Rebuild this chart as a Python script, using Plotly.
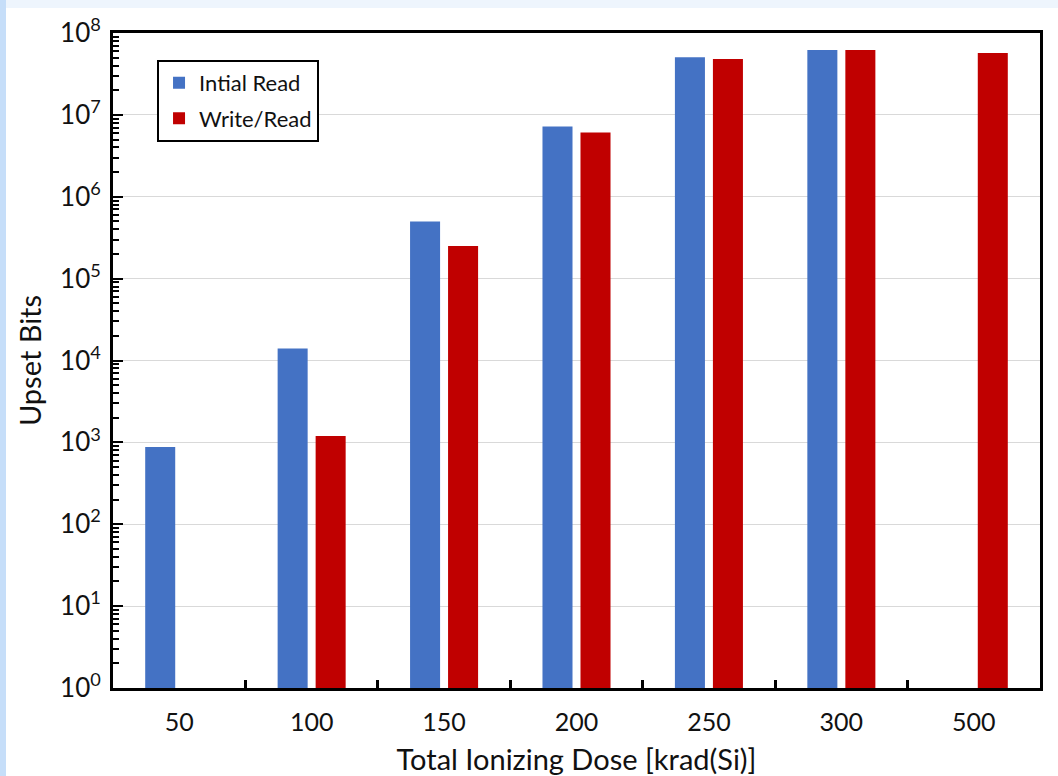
import plotly.graph_objects as go

# Dose steps and upset-bit counts per read mode
doses = ["50", "100", "150", "200", "250", "300", "500"]
initial_read = [880, 1.4e4, 5.0e5, 7.2e6, 5.05e7, 6.2e7, None]
write_read = [None, 1200, 2.5e5, 6.1e6, 4.8e7, 6.2e7, 5.7e7]

W, H = 1058, 776
L, R, T, B = 113, 18, 33, 88
FONT = "Lato, Noto Sans, sans-serif"

fig = go.Figure()
fig.add_trace(go.Bar(x=doses, y=initial_read, name="Intial Read",
                     marker=dict(color="#4472c4", line=dict(width=0)),
                     legendgroup="a"))
fig.add_trace(go.Bar(x=doses, y=write_read, name="Write/Read",
                     marker=dict(color="#c00000", line=dict(width=0)),
                     legendgroup="b"))

decades = [10 ** k for k in range(0, 9)]
minor_vals = [m * 10 ** k for k in range(0, 8) for m in range(2, 10)]

fig.update_layout(
    width=W, height=H,
    margin=dict(l=L, r=R, t=T, b=B),
    paper_bgcolor="white", plot_bgcolor="white",
    font=dict(family=FONT, color="#111111"),
    barmode="group", bargap=0.426, bargroupgap=0.21,
    showlegend=True,
    legend=dict(x=0.0475, y=0.959, xanchor="left", yanchor="top",
                bgcolor="white", bordercolor="black", borderwidth=2,
                font=dict(size=22, family=FONT), tracegroupgap=4,
                itemwidth=30),
    xaxis=dict(
        type="category", automargin=False,
        showline=True, linecolor="black", linewidth=3,
        mirror=True, ticks="inside", tickson="boundaries", ticklen=8,
        tickwidth=3, tickcolor="black", showgrid=False,
        tickfont=dict(size=25, family=FONT), ticklabelstandoff=10,
        title=dict(text="Total Ionizing Dose [krad(Si)]",
                   font=dict(size=29, family=FONT), standoff=18),
    ),
    yaxis=dict(
        type="log", range=[0, 8], automargin=False,
        showline=True, linecolor="black",
        linewidth=3, mirror=True, ticks="inside", ticklen=10, tickwidth=2,
        tickcolor="black", tickvals=decades,
        ticktext=[f"10<sup>{k}</sup>" for k in range(0, 9)],
        tickfont=dict(size=26, family=FONT), ticklabelstandoff=4,
        showgrid=True, gridcolor="#d9d9d9", gridwidth=1,
        minor=dict(tickvals=minor_vals, ticks="inside", ticklen=6,
                   tickwidth=2, tickcolor="black", showgrid=False),
        title=dict(text="Upset Bits", font=dict(size=29, family=FONT),
                   standoff=10),
    ),
)

# Light blue frame strips along the top and left edges of the page
fig.add_shape(type="rect", xref="paper", yref="paper",
              x0=-L / (W - L - R), x1=1 + R / (W - L - R),
              y0=1 + (T - 8) / (H - T - B), y1=1 + T / (H - T - B),
              fillcolor="#eef5fd", line=dict(width=0), layer="below")
fig.add_shape(type="rect", xref="paper", yref="paper",
              x0=-L / (W - L - R), x1=-(L - 6) / (W - L - R),
              y0=-B / (H - T - B), y1=1 + T / (H - T - B),
              fillcolor="#c6def9", line=dict(width=0), layer="below")

fig.write_html("out.html")
